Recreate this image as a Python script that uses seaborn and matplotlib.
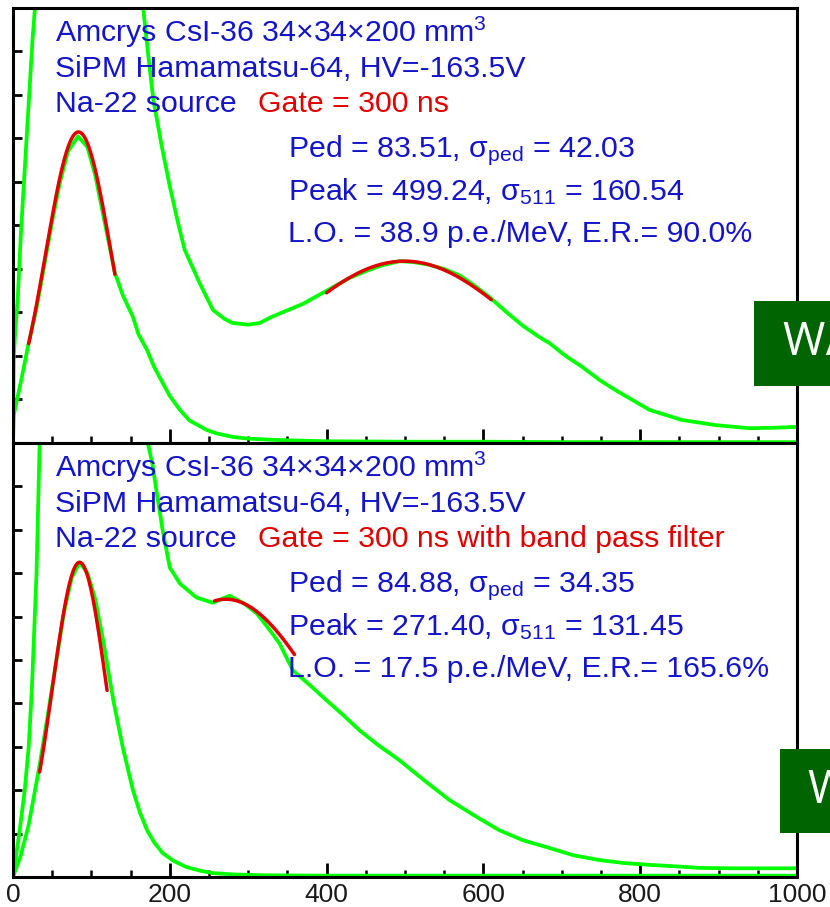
import numpy as np
import pandas as pd
import matplotlib
matplotlib.use("Agg")
import matplotlib.pyplot as plt
from matplotlib.patches import Rectangle
from matplotlib.ticker import MultipleLocator
import seaborn as sns

# ---------------------------------------------------------------- data
# Upper panel: no filter.  Full spectrum (clipped at the frame top) and pedestal.
top_spec_x = [0, 1, 3, 6, 10, 15, 20, 25, 28, 30, 160, 166, 172, 179, 190, 200, 210, 219,
              230, 238, 255, 270, 280, 300, 315, 330, 350, 370, 390, 410, 430, 450, 470,
              493, 510, 530, 550, 570, 590, 608, 630, 650, 670, 684, 705, 726, 748, 770,
              790, 812, 853, 897, 939, 970, 1000]
top_spec_y = [0, 200, 260, 330, 480, 630, 780, 930, 1000, 1000, 1000, 1000, 900, 789, 680,
              590, 510, 444, 400, 368, 306, 285, 276, 272, 276, 290, 305, 320, 340, 360,
              380, 395, 408, 418, 416, 410, 400, 385, 360, 335, 300, 270, 245, 230, 200,
              175, 145, 120, 99, 76, 53, 41, 34, 35, 37]

top_ped_x = [0, 1, 10, 20, 30, 40, 50, 60, 70, 83, 95, 105, 115, 130, 140, 153, 160, 171,
             180, 191, 200, 213, 225, 247, 260, 280, 300, 336, 400, 500, 600, 700, 800,
             900, 1000]
top_ped_y = [0, 65, 140, 230, 310, 410, 510, 600, 670, 705, 680, 615, 525, 391, 340, 290,
             250, 214, 175, 138, 108, 76, 52, 30, 22, 14, 10, 7, 4, 3, 3, 2, 2, 2, 2]

# Lower panel: with band pass filter.
bot_spec_x = [0, 8, 15, 20, 24, 30, 34, 172, 178, 183, 191, 200, 213, 234, 255, 276, 295,
              311, 325, 340, 357, 380, 400, 420, 442, 465, 493, 525, 557, 590, 620, 650,
              684, 715, 748, 780, 812, 850, 875, 920, 960, 1000]
bot_spec_y = [0, 100, 200, 300, 430, 700, 1000, 1000, 950, 890, 798, 713, 676, 644, 632,
              648, 630, 607, 575, 538, 476, 440, 407, 375, 338, 305, 269, 222, 177, 140,
              108, 85, 67, 50, 39, 32, 28, 24, 21, 20, 20, 20]

bot_ped_x = [0, 5, 10, 20, 34, 45, 55, 65, 75, 85, 95, 105, 115, 128, 140, 153, 162, 171,
             180, 191, 205, 221, 240, 255, 280, 320, 400, 500, 600, 700, 800, 900, 1000]
bot_ped_y = [0, 25, 50, 120, 258, 380, 495, 610, 690, 725, 700, 640, 545, 407, 299, 200,
             148, 108, 80, 55, 37, 23, 14, 9, 6, 4, 3, 3, 3, 3, 3, 3, 3]

# Gaussian fits: [pedestal, 511 keV peak] per panel
top_fit_mean = [83.51, 499.24]
top_fit_sigma = [42.03, 160.54]
top_fit_amp = [715, 418]
top_fit_range = [(20, 130), (400, 610)]

bot_fit_mean = [84.88, 271.40]
bot_fit_sigma = [34.35, 131.45]
bot_fit_amp = [725, 640]
bot_fit_range = [(34, 120), (257, 359)]

x_ticks = [0, 200, 400, 600, 800, 1000]

# ---------------------------------------------------------------- style
sns.set_theme(style="white")
plt.rcParams["font.family"] = ["Liberation Sans", "DejaVu Sans"]
plt.rcParams["mathtext.fontset"] = "custom"
plt.rcParams["mathtext.rm"] = "Liberation Sans"
plt.rcParams["mathtext.it"] = "Liberation Sans:italic"
plt.rcParams["mathtext.bf"] = "Liberation Sans:bold"

GREEN = "#00FF00"
RED = "#E00000"
BLUE = "#1414C8"
BOX = "#006400"

fig = plt.figure(figsize=(8.3, 9.07), dpi=100)
ax_top = fig.add_axes([0.01566, 0.51158, 0.9446, 0.4796])
ax_bot = fig.add_axes([0.01566, 0.03308, 0.9446, 0.4785])


def draw_panel(ax, spec_x, spec_y, ped_x, ped_y, means, sigmas, amps, ranges):
    sns.lineplot(x=spec_x, y=spec_y, ax=ax, color=GREEN, lw=2.7, sort=False,
                 estimator=None, zorder=2)
    sns.lineplot(x=ped_x, y=ped_y, ax=ax, color=GREEN, lw=2.7, sort=False,
                 estimator=None, zorder=2)
    for m, s, a, (lo, hi) in zip(means, sigmas, amps, ranges):
        fx = np.linspace(lo, hi, 120)
        fy = a * np.exp(-0.5 * ((fx - m) / s) ** 2)
        sns.lineplot(x=fx, y=fy, ax=ax, color=RED, lw=2.5, sort=False,
                     estimator=None, zorder=3)
    ax.set_xlim(0, 1000)
    ax.set_ylim(0, 1000)
    ax.xaxis.set_major_locator(MultipleLocator(200))
    ax.xaxis.set_minor_locator(MultipleLocator(50))
    ax.yaxis.set_major_locator(MultipleLocator(100))
    ax.tick_params(axis="x", which="major", direction="in", length=10, width=2.0,
                   bottom=True, top=False, color="black")
    ax.tick_params(axis="x", which="minor", direction="in", length=5, width=1.8,
                   bottom=True, top=False, color="black")
    ax.tick_params(axis="y", which="major", direction="in", length=6.5, width=2.0,
                   left=True, right=False, labelleft=False, color="black")
    for sp in ax.spines.values():
        sp.set_visible(True)
        sp.set_color("black")
        sp.set_linewidth(2.2)
    ax.set_xlabel("")
    ax.set_ylabel("")


draw_panel(ax_top, top_spec_x, top_spec_y, top_ped_x, top_ped_y,
           top_fit_mean, top_fit_sigma, top_fit_amp, top_fit_range)
draw_panel(ax_bot, bot_spec_x, bot_spec_y, bot_ped_x, bot_ped_y,
           bot_fit_mean, bot_fit_sigma, bot_fit_amp, bot_fit_range)

ax_top.tick_params(axis="x", labelbottom=False)
ax_bot.set_xticks(x_ticks)
ax_bot.set_xticklabels([str(v) for v in x_ticks], fontsize=19, color="#1a1a1a")
ax_bot.tick_params(axis="x", which="major", pad=4)

# ---------------------------------------------------------------- annotations
FS = 21.8
header = [r"Amcrys CsI-36 34$\times$34$\times$200 mm$^{\mathregular{3}}$",
          "SiPM Hamamatsu-64, HV=-163.5V",
          "Na-22 source"]
header_y = [0.922, 0.841, 0.760]
gate_text = ["Gate = 300 ns", "Gate = 300 ns with band pass filter"]

stats = [
    [r"Ped = 83.51, $\mathregular{\sigma_{ped}}$ = 42.03",
     r"Peak = 499.24, $\mathregular{\sigma_{511}}$ = 160.54",
     "L.O. = 38.9 p.e./MeV, E.R.= 90.0%"],
    [r"Ped = 84.88, $\mathregular{\sigma_{ped}}$ = 34.35",
     r"Peak = 271.40, $\mathregular{\sigma_{511}}$ = 131.45",
     "L.O. = 17.5 p.e./MeV, E.R.= 165.6%"],
]
stats_y = [0.657, 0.558, 0.461]

for i, ax in enumerate([ax_top, ax_bot]):
    for txt, y in zip(header, header_y):
        ax.text(0.0536, y, txt, transform=ax.transAxes, color=BLUE, fontsize=FS,
                va="baseline", ha="left", zorder=5)
    ax.text(0.3125, header_y[2], gate_text[i], transform=ax.transAxes, color=RED,
            fontsize=FS, va="baseline", ha="left", zorder=5)
    for txt, y in zip(stats[i], stats_y):
        ax.text(0.351, y, txt, transform=ax.transAxes, color=BLUE, fontsize=FS,
                va="baseline", ha="left", zorder=5)

# Side labels on dark green boxes
fig.patches.append(Rectangle((754 / 830, 1 - 386 / 907), 0.2, 85 / 907,
                             transform=fig.transFigure, facecolor=BOX,
                             edgecolor="none", zorder=10))
fig.patches.append(Rectangle((780 / 830, 1 - 833 / 907), 0.2, 84 / 907,
                             transform=fig.transFigure, facecolor=BOX,
                             edgecolor="none", zorder=10))
fig.text(783 / 830, 1 - 343 / 907, "W/O filter", color="white", fontsize=33,
         family=["Open Sans", "DejaVu Sans"], va="center", ha="left", zorder=11)
fig.text(808 / 830, 1 - 791 / 907, "W/ filter", color="white", fontsize=33,
         family=["Open Sans", "DejaVu Sans"], va="center", ha="left", zorder=11)

fig.savefig("out.png", dpi=100)
